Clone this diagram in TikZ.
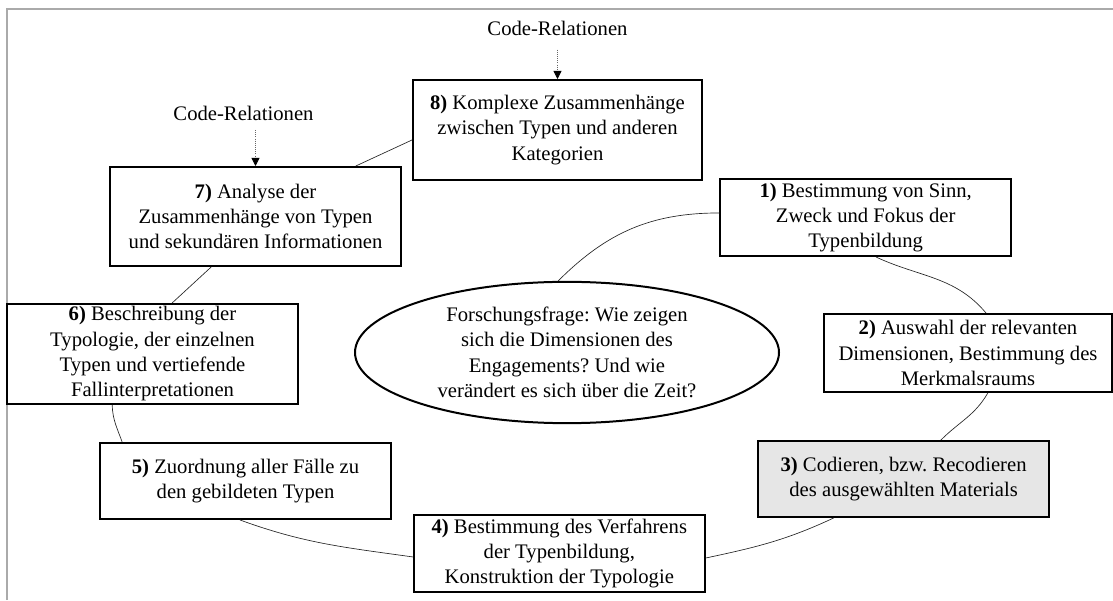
\documentclass[tikz,border=0pt]{standalone}
\usepackage{fontspec}
\setmainfont{Liberation Serif}
\usetikzlibrary{shapes.geometric, arrows.meta, positioning}
\definecolor{framegray}{RGB}{170,170,170}
\definecolor{codefill}{RGB}{230,230,230}
\frenchspacing
\tikzset{
    stepbox/.style = {rectangle, draw=black, line width=1.5pt, align=center, inner sep=2pt, minimum width=218pt, font=\fontsize{15.5}{19}\selectfont},
    question/.style = {ellipse, draw=black, line width=1.5pt, align=center, inner sep=0pt, minimum width=318pt, minimum height=106pt, font=\fontsize{15.5}{19}\selectfont},
    relation/.style = {inner sep=0pt, font=\fontsize{15.5}{19}\selectfont},
    link/.style = {line width=0.5pt, draw=black!85},
    relarrow/.style = {densely dotted, line width=0.6pt, draw=black!60, -{Triangle[width=6pt, length=6pt, color=black]}},
    frame/.style = {line width=1.5pt, draw=framegray}
}

\begin{document}
\begin{tikzpicture}[x=0.75pt, y=0.75pt]
\useasboundingbox (0,0) rectangle (1113,600);
\draw [frame] (6.5,0) -- (6.5,590.5) -- (1113,590.5);

% Research question in the middle
\node (ell) [question] at (567,247.5) {Forschungsfrage: Wie zeigen\\sich die Dimensionen des\\Engagements? Und wie\\verändert es sich über die Zeit?};

% Steps of the typology
\node (b1) [stepbox, minimum height=57.75pt] at (865.7,382.5) {\textbf{1)} Bestimmung von Sinn,\\Zweck und Fokus der\\Typenbildung};
\node (b2) [stepbox, minimum width=216pt, minimum height=58.5pt] at (968,247) {\textbf{2)} Auswahl der relevanten\\Dimensionen, Bestimmung des\\Merkmalsraums};
\node (b3) [stepbox, fill=codefill, minimum height=57pt] at (903.6,121) {\textbf{3)} Codieren, bzw. Recodieren\\des ausgewählten Materials};
\node (b4) [stepbox, minimum height=57.75pt] at (559.3,46.5) {\textbf{4)} Bestimmung des Verfahrens\\der Typenbildung,\\Konstruktion der Typologie};
\node (b5) [stepbox, minimum height=57pt] at (245.5,119) {\textbf{5)} Zuordnung aller Fälle zu\\den gebildeten Typen};
\node (b6) [stepbox, minimum height=75pt] at (152.5,246) {\textbf{6)} Beschreibung der\\Typologie, der einzelnen\\Typen und vertiefende\\Fallinterpretationen};
\node (b7) [stepbox, minimum height=74.25pt] at (255.5,383.5) {\textbf{7)} Analyse der\\Zusammenhänge von Typen\\und sekundären Informationen};
\node (b8) [stepbox, minimum width=216.75pt, minimum height=75pt] at (557.5,470) {\textbf{8)} Komplexe Zusammenhänge\\zwischen Typen und anderen\\Kategorien};

% Code relations
\node (cr8) [relation, above=32pt of b8] {Code-Relationen};
\node (cr7) [relation, above=34pt of b7, xshift=-9pt] {Code-Relationen};
\draw [relarrow, shorten <=10pt] (cr8.south -| b8.north) -- (b8.north);
\draw [relarrow, shorten <=7pt] (cr7.south -| b7.north) -- (b7.north);

% Cycle
\draw [link] (ell.97) to[out=45, in=180] ([yshift=3.4pt]b1.west);
\draw [link] ([xshift=7.7pt]b1.south) to[out=-25, in=130] ([xshift=13.5pt]b2.north);
\draw [link] ([xshift=14.85pt]b2.south) to[out=-120, in=45] ([xshift=28pt]b3.north);
\draw [link] ([xshift=-52.5pt]b3.south) to[out=-155, in=12] ([yshift=-3.4pt]b4.east);
\draw [link] ([yshift=-2.6pt]b4.west) to[out=172, in=-20] ([xshift=-4.1pt]b5.south);
\draw [link] ([xshift=79.5pt]b6.south west) to[out=-88, in=110] ([xshift=17.25pt]b5.north west);
\draw [link] ([xshift=76.5pt]b7.south west) -- ([xshift=124.5pt]b6.north west);
\draw [link] ([xshift=185pt]b7.north west) -- ([yshift=-7.5pt]b8.west);

\end{tikzpicture}
\end{document}
